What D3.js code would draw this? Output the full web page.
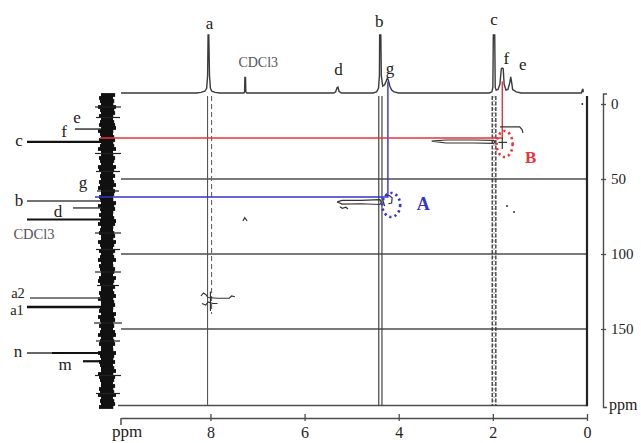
<!DOCTYPE html>
<html><head><meta charset="utf-8">
<script src="https://cdn.jsdelivr.net/npm/d3@7"></script>
<style>
html,body{margin:0;padding:0;background:#fff;}
svg{display:block;}
text{font-family:'Liberation Serif','Times New Roman',serif;}
</style>
</head><body>
<svg id="c" width="641" height="443"></svg>
<script>
// ---------- data ----------
const xTicks = [8, 6, 4, 2, 0];
const yTicks = [0, 50, 100, 150];
const gridC = [50, 100, 150];

// 1H projection trace: [ppm, relative intensity]
const topTrace = [
  [9.9,0],[8.3,0],[8.2,1],[8.12,3],[8.08,8],[8.06,30],[8.05,100],[8.035,100],[8.02,30],[8.0,8],[7.97,3],[7.9,1],[7.8,0],
  [7.29,0],[7.275,2],[7.268,27],[7.255,27],[7.248,2],[7.23,0],
  [5.38,0],[5.34,2],[5.31,9],[5.29,10],[5.27,3],[5.22,0],
  [4.55,0],[4.47,2],[4.43,8],[4.41,30],[4.405,100],[4.39,100],[4.38,100],[4.37,30],[4.34,12],[4.3,14],[4.27,20],[4.24,26],[4.22,22],[4.19,12],[4.15,5],[4.1,2],[4.0,0],
  [2.08,0],[2.02,2],[2.0,10],[1.99,100],[1.96,100],[1.95,10],[1.93,5],[1.89,6],[1.85,15],[1.82,42],[1.8,43],[1.78,42],[1.76,15],[1.72,5],[1.68,6],[1.64,18],[1.62,28],[1.60,18],[1.58,6],[1.5,2],[1.4,0],
  [0.12,0],[0.095,6],[0.085,6],[0.08,1]
];
const protonPeaks = [
  {label:'a', ppm:8.04, h:100},
  {label:'CDCl3', ppm:7.26, h:27},
  {label:'d', ppm:5.30, h:10},
  {label:'b', ppm:4.39, h:100},
  {label:'g', ppm:4.23, h:26},
  {label:'c', ppm:1.975, h:100},
  {label:'f', ppm:1.80, h:43},
  {label:'e', ppm:1.62, h:28}
];
// 13C projection peaks (ppm)
const carbonPeaks = [
  {label:'e', ppm:16.7},
  {label:'c', ppm:25.3},
  {label:'b', ppm:64.7},
  {label:'d', ppm:69.3},
  {label:'CDCl3', ppm:77.0},
  {label:'a2', ppm:129.3},
  {label:'a1', ppm:135.3},
  {label:'n', ppm:166.0},
  {label:'m', ppm:171.5}
];
const carbonTags = [
  {label:'f', ppm:22.7},
  {label:'g', ppm:59.0}
];
// 1H signals whose traces run through the 2D map
const traces = [
  {label:'a', ppm:8.04},
  {label:'b', ppm:4.39},
  {label:'c', ppm:1.975}
];
// highlighted correlations
const correlations = [
  {label:'A', h:4.23, c:62.0, ch:4.16, cc:67.3},
  {label:'B', h:1.80, c:22.7, ch:1.75, cc:26.7}
];
// cross-peak contours: [1H ppm, 13C ppm]
const crossPeaks = [
  [[5.31,65.3],[5.2,64.3],[4.8,64.2],[4.4,63.8],[4.37,65.5],[4.4,67.0],[4.8,66.5],[5.2,66.7],[5.31,65.3]],
  [[5.25,68.5],[5.2,69.5],[5.12,68.8],[5.08,70.0]],
  [[4.3,61.0],[4.2,61.0],[4.14,62.5],[4.15,66.0],[4.22,66.5]],
  [[4.34,64.0],[4.3,68.0]],
  [[3.3,24.8],[3.0,24.0],[2.4,24.0],[1.98,24.2],[1.96,25.5],[1.98,26.2],[2.4,26.0],[3.0,26.0],[3.3,24.8]],
  [[1.85,15.3],[1.43,15.3],[1.38,17.0],[1.36,19.3]],
  [[1.88,25.6],[1.7,25.6]],[[1.8,22.5],[1.8,30.0]],
  [[8.2,128],[8.15,126],[8.1,127],[8.05,129],[7.85,129.5],[7.6,129.5],[7.55,128],[7.48,128.5]],
  [[8.18,133],[8.1,134],[8.05,132],[7.95,133],[7.85,133]],
  [[8.0,125],[8.0,138]],
  [[7.31,78],[7.27,75.8],[7.22,78]]
];
const crossDots = [[1.7,68],[1.55,72],[0.1,0]];
// 13C projection noise level, every 2 ppm from -6 ppm
const f1Noise = [
  7,9,8,6,10,8,7,9,6,8, 9,7,10,8,6,9,7,8,10,7, 6,9,8,7,10,9,6,8,7,9,
  8,10,6,7,9,8,7,10,8,6, 9,7,8,10,6,8,9,7,6,10, 8,7,9,6,8,10,7,9,8,6,
  7,9,10,8,6,7,9,8,10,7, 6,8,9,7,10,8,6,9,7,8, 10,6,8,9,7,6,10,8,7,9,
  8,6,7,10,9,8,6,7,9,8, 10,7,8,6,9
];
const f1Spikes = [[2,13],[9,12],[33,13],[45,12],[58,11],[86,13],[97,12],[112,13],[121,11],[146,14],[158,12],[181,13],[193,12]];

// ---------- drawing ----------
const svg = d3.select('#c');
const x = d3.scaleLinear().domain([9.9, 0]).range([121, 587]);
const yC = d3.scaleLinear().domain([0, 200]).range([104, 404]);
const yTop = d3.scaleLinear().domain([0, 100]).range([93, 35]);
const nz = d3.scaleLinear().domain([0, 10]).range([0, 10]);
const gray = '#4d4d4d', blue = '#3434cc', red = '#e8343a';

// grid lines
svg.selectAll('.grid').data(gridC).join('line')
  .attr('x1', 121).attr('x2', 587).attr('y1', d => yC(d)).attr('y2', d => yC(d))
  .attr('stroke', gray).attr('stroke-width', 1.4);
// frame
svg.append('line').attr('x1', 118).attr('x2', 587).attr('y1', yC(201)).attr('y2', yC(201))
  .attr('stroke', gray).attr('stroke-width', 1.5);
svg.append('line').attr('x1', 587).attr('x2', 587).attr('y1', 96).attr('y2', yC(201)+0.7)
  .attr('stroke', '#222').attr('stroke-width', 2.2);

// vertical traces
traces.forEach(t => {
  const cx = x(t.ppm);
  if (t.label === 'a') {
    svg.append('line').attr('x1', cx-1).attr('x2', cx-1).attr('y1', 96).attr('y2', yC(201))
      .attr('stroke', '#555').attr('stroke-width', 1.1);
    svg.append('line').attr('x1', cx+3).attr('x2', cx+3).attr('y1', 96).attr('y2', yC(140))
      .attr('stroke', '#666').attr('stroke-width', 1.1).attr('stroke-dasharray', '5,3');
  } else if (t.label === 'b') {
    [-1.6, 1.6].forEach(o => svg.append('line').attr('x1', cx+o).attr('x2', cx+o).attr('y1', 96).attr('y2', yC(201))
      .attr('stroke', '#444').attr('stroke-width', 1.2));
  } else {
    [-1.8, 1.8].forEach(o => svg.append('line').attr('x1', cx+o).attr('x2', cx+o).attr('y1', 96).attr('y2', yC(201))
      .attr('stroke', '#333').attr('stroke-width', 1.3).attr('stroke-dasharray', '4,1.5'));
    svg.append('line').attr('x1', cx).attr('x2', cx).attr('y1', 96).attr('y2', yC(201))
      .attr('stroke', '#999').attr('stroke-width', 1).attr('stroke-dasharray', '2,2');
  }
});

// top 1H trace
const line = d3.line().x(d => x(d[0])).y(d => yTop(d[1]));
svg.append('path').attr('d', line(topTrace)).attr('fill', 'none')
  .attr('stroke', '#3a3a3a').attr('stroke-width', 1.4);

// top labels
const topOff = {a:[1,6], CDCl3:[13,10], d:[1,12], b:[-1,8], g:[2,4], c:[0,10], f:[4,4], e:[12,7]};
svg.selectAll('.tl').data(protonPeaks).join('text')
  .attr('x', d => x(d.ppm) + topOff[d.label][0])
  .attr('y', d => yTop(d.h) - topOff[d.label][1])
  .attr('text-anchor', 'middle')
  .attr('font-size', d => d.label === 'CDCl3' ? 14 : 17)
  .attr('fill', d => d.label === 'CDCl3' ? '#555' : '#222')
  .text(d => d.label);

// 13C projection band
const n = f1Noise.length;
svg.append('rect').attr('x', 101).attr('width', 12)
  .attr('y', yC(-6)).attr('height', yC(202) - yC(-6)).attr('fill', '#111');
svg.selectAll('.nz').data(f1Noise).join('line')
  .attr('x1', d => 108 - nz(d))
  .attr('x2', (d, i) => 107 + 0.9 * nz(f1Noise[n-1-i]))
  .attr('y1', (d, i) => yC(-6 + 2*i)).attr('y2', (d, i) => yC(-6 + 2*i))
  .attr('stroke', '#111').attr('stroke-width', 3.8);
svg.selectAll('.sp').data(f1Spikes).join('line')
  .attr('x1', d => 108 - nz(d[1])).attr('x2', d => 108 + nz(d[1]))
  .attr('y1', d => yC(d[0])).attr('y2', d => yC(d[0]))
  .attr('stroke', '#222').attr('stroke-width', 1.2);

// correlation lines
correlations.forEach(c => {
  const col = c.label === 'A' ? blue : red;
  const x0 = c.label === 'A' ? 95 : 100;
  svg.append('path')
    .attr('d', `M${x(c.h)},${yTop(20)}V${yC(c.c)}H${x0}`)
    .attr('fill', 'none').attr('stroke', col).attr('stroke-width', 1.4);
});

// carbon leader lines and labels
const leadStart = {e:75, c:27, b:27, d:73, CDCl3:27, a2:30, a1:27, n:27, m:83};
const leadW = {e:1.5, c:2.3, b:1.5, d:1.5, CDCl3:2.2, a2:1.4, a1:2.6, n:1.5, m:2.2};
const leadCol = {e:'#333', c:'#111', b:'#444', d:'#444', CDCl3:'#111', a2:'#555', a1:'#111', n:'#333', m:'#111'};
svg.selectAll('.ll').data(carbonPeaks).join('line')
  .attr('x1', d => leadStart[d.label]).attr('x2', 101)
  .attr('y1', d => yC(d.ppm)).attr('y2', d => yC(d.ppm))
  .attr('stroke', d => leadCol[d.label]).attr('stroke-width', d => leadW[d.label]);
svg.append('line').attr('x1', 52).attr('x2', 101).attr('y1', yC(166)).attr('y2', yC(166))
  .attr('stroke', '#111').attr('stroke-width', 2.2);
const cLab = {e:[77,-6], c:[19,4], b:[19,4.5], d:[58,9], CDCl3:[34,19], a2:[18,0], a1:[17,8], n:[18,4], m:[65,8.5], f:[64,-1], g:[83,-5]};
svg.selectAll('.cl').data(carbonPeaks.concat(carbonTags)).join('text')
  .attr('x', d => cLab[d.label][0])
  .attr('y', d => yC(d.ppm) + cLab[d.label][1])
  .attr('text-anchor', 'middle')
  .attr('font-size', d => d.label === 'CDCl3' ? 14.5 : (d.label.length > 1 ? 14.5 : 17))
  .attr('fill', d => d.label === 'CDCl3' ? '#555' : '#222')
  .text(d => d.label);

// cross peaks
const cline = d3.line().x(d => x(d[0])).y(d => yC(d[1]));
svg.selectAll('.cp').data(crossPeaks).join('path')
  .attr('d', d => cline(d)).attr('fill', 'none')
  .attr('stroke', '#333').attr('stroke-width', 1.2);
svg.selectAll('.cd').data(crossDots).join('circle')
  .attr('cx', d => x(d[0])).attr('cy', d => yC(d[1])).attr('r', 1)
  .attr('fill', '#333');

// dotted ellipses + labels
correlations.forEach(c => {
  const col = c.label === 'A' ? blue : red;
  const rx = c.label === 'A' ? 9 : 8, ry = c.label === 'A' ? 12 : 13;
  svg.append('ellipse').attr('cx', x(c.ch)).attr('cy', yC(c.cc)).attr('rx', rx).attr('ry', ry)
    .attr('fill', 'none').attr('stroke', col).attr('stroke-width', 2.6)
    .attr('stroke-dasharray', '2.2,3.2');
  svg.append('text')
    .attr('x', c.label === 'A' ? x(c.ch) + 32 : x(c.ch) + 26)
    .attr('y', c.label === 'A' ? yC(c.cc) + 5 : yC(c.cc) + 19)
    .attr('text-anchor', 'middle').attr('font-size', c.label === 'A' ? 18 : 17)
    .attr('font-weight', 'bold').attr('fill', col).text(c.label);
});

// bottom axis
const xAxis = d3.axisBottom(x).tickValues(xTicks).tickSizeInner(-4).tickSizeOuter(0).tickPadding(9)
  .tickFormat(d3.format('d'));
const gx = svg.append('g').attr('transform', 'translate(0,418)').call(xAxis);
gx.select('.domain').attr('stroke', gray).attr('stroke-width', 1.5);
gx.selectAll('.tick line').attr('stroke', gray).attr('stroke-width', 1.3).attr('y2', -4).attr('y1', 3);
gx.selectAll('.tick text').attr('font-size', 16).attr('fill', '#222')
  .attr('font-family', "'Liberation Serif', serif");
svg.append('line').attr('x1', 121).attr('x2', 121).attr('y1', 418).attr('y2', 425)
  .attr('stroke', gray).attr('stroke-width', 1.5);
svg.append('text').attr('x', 127).attr('y', 437).attr('text-anchor', 'middle')
  .attr('font-size', 17).attr('fill', '#222').text('ppm');

// right axis
const yR = yC.copy().domain([-7, 202]).range([yC(-7), yC(202)]);
const yAxis = d3.axisRight(yR).tickValues(yTicks).tickSizeInner(3).tickSizeOuter(4).tickPadding(5);
const gy = svg.append('g').attr('transform', 'translate(603,0)').call(yAxis);
gy.select('.domain').attr('stroke', gray).attr('stroke-width', 1.4);
gy.selectAll('.tick line').attr('stroke', gray).attr('stroke-width', 1.3).attr('x1', -2);
gy.selectAll('.tick text').attr('font-size', 15).attr('fill', '#222')
  .attr('font-family', "'Liberation Serif', serif");
svg.append('text').attr('x', 609).attr('y', 410).attr('font-size', 16).attr('fill', '#222').text('ppm');
</script>
</body></html>
